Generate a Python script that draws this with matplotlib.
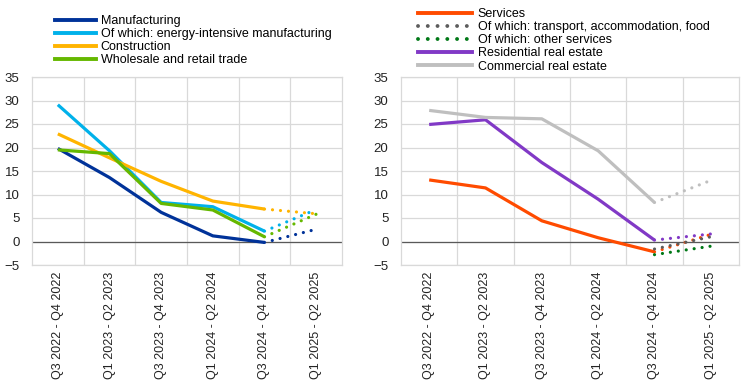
import matplotlib.pyplot as plt
from matplotlib.lines import Line2D
import numpy as np

plt.rcParams['font.family'] = ['Liberation Sans', 'DejaVu Sans']

categories = ['Q3 2022 - Q4 2022', 'Q1 2023 - Q2 2023', 'Q3 2023 - Q4 2023',
              'Q1 2024 - Q2 2024', 'Q3 2024 - Q4 2024', 'Q1 2025 - Q2 2025']

# left panel: observed (first five periods) and projected (last two points)
manufacturing = [19.8, 13.6, 6.2, 1.2, -0.2]
manufacturing_proj = [-0.2, 2.6]
energy_intensive = [29.1, 19.3, 8.3, 7.4, 2.2]
energy_intensive_proj = [2.2, 6.8]
construction = [22.9, 17.8, 12.8, 8.6, 6.9]
construction_proj = [6.9, 5.9]
wholesale = [19.5, 18.7, 8.1, 6.7, 1.0]
wholesale_proj = [1.0, 5.8]

# right panel
services = [13.1, 11.4, 4.4, 0.8, -2.2]
services_proj = [-2.2, 1.5]
transport_proj = [-1.6, 1.0]
other_services_proj = [-2.8, -1.0]
residential = [24.9, 25.9, 16.8, 9.0, 0.3]
residential_proj = [0.3, 1.6]
commercial = [27.9, 26.4, 26.1, 19.3, 8.3]
commercial_proj = [8.3, 13.0]

DOTS = (0, (0.01, 2.5))
LW = 2.3


def style_axes(ax):
    ax.set_xlim(-0.5, 5.5)
    ax.set_ylim(-5, 35)
    ax.set_yticks(np.arange(-5, 36, 5))
    ax.set_xticks(range(len(categories)))
    ax.set_xticklabels(categories, rotation=90, fontsize=9, color='#222222')
    ax.set_xticks(np.arange(0.5, 5.5, 1), minor=True)
    ax.tick_params(axis='both', which='both', length=0)
    ax.tick_params(axis='y', labelsize=9.5, pad=9, labelcolor='#222222')
    ax.tick_params(axis='x', pad=5)
    ax.grid(axis='y', color='#d9d9d9', linewidth=0.9)
    ax.grid(axis='x', which='minor', color='#d9d9d9', linewidth=0.9)
    ax.axhline(0, color='#595959', linewidth=0.9, zorder=1.5)
    ax.set_axisbelow(True)
    for s in ax.spines.values():
        s.set_color('#d9d9d9')
        s.set_linewidth(0.9)


def series(ax, obs, proj, color, proj_only=False):
    x = np.arange(len(categories))
    if not proj_only:
        ax.plot(x[:len(obs)], obs, color=color, linewidth=LW,
                solid_capstyle='butt', solid_joinstyle='round', zorder=3)
    ax.plot(x[4:6], proj, color=color, linewidth=LW, linestyle=DOTS,
            dash_capstyle='round', zorder=3)


def main():
    fig = plt.figure(figsize=(7.44, 3.83), dpi=100)
    ax1 = fig.add_axes([32 / 744, 1 - 265 / 383, 310 / 744, 188 / 383])
    ax2 = fig.add_axes([401 / 744, 1 - 265 / 383, 338 / 744, 188 / 383])

    c_man, c_en, c_con, c_wh = '#003299', '#00b1ea', '#ffb400', '#65b800'
    series(ax1, manufacturing, manufacturing_proj, c_man)
    series(ax1, energy_intensive, energy_intensive_proj, c_en)
    series(ax1, construction, construction_proj, c_con)
    series(ax1, wholesale, wholesale_proj, c_wh)

    c_srv, c_tr, c_oth, c_res, c_com = '#ff4b00', '#5c5c5c', '#007816', '#8139c6', '#bfbfbf'
    series(ax2, services, services_proj, c_srv)
    series(ax2, None, transport_proj, c_tr, proj_only=True)
    series(ax2, None, other_services_proj, c_oth, proj_only=True)
    series(ax2, residential, residential_proj, c_res)
    series(ax2, commercial, commercial_proj, c_com)

    style_axes(ax1)
    style_axes(ax2)

    h1 = [Line2D([], [], color=c, linewidth=LW + 0.5) for c in (c_man, c_en, c_con, c_wh)]
    l1 = ['Manufacturing', 'Of which: energy-intensive manufacturing',
          'Construction', 'Wholesale and retail trade']
    fig.legend(h1, l1, loc='upper left', bbox_to_anchor=(55 / 744, 1 - 15 / 383),
               frameon=False, fontsize=9, borderpad=0, borderaxespad=0,
               handlelength=3.3, handletextpad=0.35, labelspacing=0.09)

    h2 = [Line2D([], [], color=c_srv, linewidth=LW + 0.5),
          Line2D([], [], color=c_tr, linewidth=LW + 0.5, linestyle=DOTS, dash_capstyle='round'),
          Line2D([], [], color=c_oth, linewidth=LW + 0.5, linestyle=DOTS, dash_capstyle='round'),
          Line2D([], [], color=c_res, linewidth=LW + 0.5),
          Line2D([], [], color=c_com, linewidth=LW + 0.5)]
    l2 = ['Services', 'Of which: transport, accommodation, food',
          'Of which: other services', 'Residential real estate',
          'Commercial real estate']
    fig.legend(h2, l2, loc='upper left', bbox_to_anchor=(418 / 744, 1 - 8 / 383),
               frameon=False, fontsize=9, borderpad=0, borderaxespad=0,
               handlelength=4.3, handletextpad=0.48, labelspacing=0.09)

    plt.savefig('out.png', dpi=100)


if __name__ == "__main__":
    main()
